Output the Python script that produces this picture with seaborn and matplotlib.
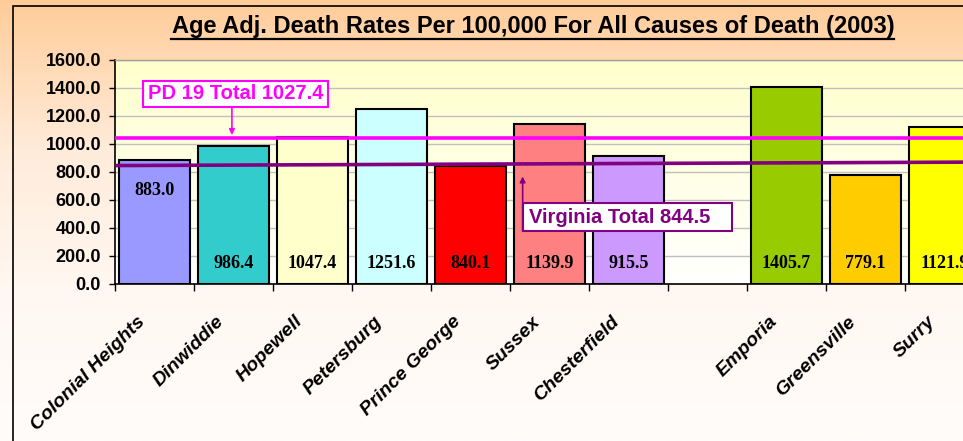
import numpy as np
import pandas as pd
import matplotlib
matplotlib.use("Agg")
import matplotlib.pyplot as plt
import matplotlib.transforms as mtransforms
import seaborn as sns
from matplotlib.colors import LinearSegmentedColormap
from matplotlib.lines import Line2D
from matplotlib.patches import Rectangle

# ---- data ----
order = ["Colonial Heights", "Dinwiddie", "Hopewell", "Petersburg", "Prince George",
         "Sussex", "Chesterfield", " ", "Emporia", "Greensville", "Surry"]
categories = ["Colonial Heights", "Dinwiddie", "Hopewell", "Petersburg", "Prince George",
              "Sussex", "Chesterfield", "Emporia", "Greensville", "Surry"]
values = [883.0, 986.4, 1047.4, 1251.6, 840.1, 1139.9, 915.5, 1405.7, 779.1, 1121.9]
colors = ["#9999FF", "#33CCCC", "#FFFFCC", "#CCFFFF", "#FF0000",
          "#FF8080", "#CC99FF", "#99CC00", "#FFCC00", "#FFFF00"]
label_y = [671, 143, 143, 143, 143, 143, 143, 143, 143, 143]
pd19_label = "PD 19 Total 1027.4"
va_label = "Virginia Total 844.5"
pd19_line = [1045, 1045]
va_line = [846, 871]
title = "Age Adj. Death Rates Per 100,000 For All Causes of Death (2003)"
yticks = [0, 200, 400, 600, 800, 1000, 1200, 1400, 1600]

df = pd.DataFrame({"county": categories, "rate": values})

W, H = 963, 441
fig = plt.figure(figsize=(W / 100, H / 100), dpi=100)

# outer background gradient
bg = fig.add_axes([0, 0, 1, 1], zorder=-10)
cmap_bg = LinearSegmentedColormap.from_list("bg", ["#FFCC99", "#FFEBD9", "#FFF8F2", "#FFFCFA"])
grad = np.linspace(0, 1, 256).reshape(-1, 1)
bg.imshow(grad, aspect="auto", cmap=cmap_bg, extent=[0, 1, 0, 1], origin="upper")
bg.set_axis_off()
bg.add_patch(Rectangle((13 / W, -0.1), 1.2, 1 - 6 / H + 0.1, fill=False,
                       edgecolor="black", linewidth=1.2, transform=bg.transAxes))
bg.set_xlim(0, 1); bg.set_ylim(0, 1)

ax = fig.add_axes([115 / W, (H - 284) / H, 869 / W, 224 / H])
ax.set_facecolor("none")

# plot area gradient
cmap_pa = LinearSegmentedColormap.from_list("pa", ["#FFFFCC", "#FFFFFF"])
ax.imshow(grad, aspect="auto", cmap=cmap_pa, extent=[-0.5, len(order) - 0.5, 0, 1600],
          origin="upper", zorder=0)

for y in yticks[1:]:
    ax.axhline(y, color="#C0C0C0", linewidth=1, zorder=1)

sns.barplot(data=df, x="county", y="rate", hue="county", order=order,
            hue_order=categories, palette=colors, dodge=False, legend=False,
            width=0.9, edgecolor="black", linewidth=1.5, saturation=1, ax=ax, zorder=2)

ax.set_xlim(-0.5, len(order) - 0.5)
ax.set_ylim(0, 1600)
ax.set_xlabel("")
ax.set_ylabel("")

# value labels
for cat, val, ly in zip(categories, values, label_y):
    xi = order.index(cat)
    ax.text(xi, ly, f"{val:.1f}", ha="center", va="center", fontsize=13,
            fontweight="bold", family="Liberation Serif", color="black", zorder=5)

# reference lines
ax.plot([-0.5, len(order) - 0.5], pd19_line, color="#FF00FF", linewidth=2.6, zorder=4)
ax.plot([-0.5, len(order) - 0.5], va_line, color="#800080", linewidth=2.6, zorder=4)

# PD 19 label box + arrow
ax.add_patch(Rectangle((-0.146, 1266), 2.342, 185, facecolor="white",
                       edgecolor="#FF00FF", linewidth=1.5, zorder=6))
ax.text(1.025, 1358, pd19_label, ha="center", va="center", fontsize=14.5,
        fontweight="bold", family="Liberation Sans", color="#FF00FF", zorder=7)
ax.annotate("", xy=(0.98, 1064), xytext=(0.98, 1266),
            arrowprops=dict(arrowstyle="-|>", color="#FF00FF", lw=1.2,
                            mutation_scale=8, shrinkA=0, shrinkB=0), zorder=6)

# Virginia label box + arrow
ax.add_patch(Rectangle((4.66, 377), 2.65, 199, facecolor="white",
                       edgecolor="#800080", linewidth=1.5, zorder=6))
ax.text(4.74, 477, va_label, ha="left", va="center", fontsize=14.5,
        fontweight="bold", family="Liberation Sans", color="#800080", zorder=7)
ax.annotate("", xy=(4.66, 768), xytext=(4.66, 377),
            arrowprops=dict(arrowstyle="-|>", color="#800080", lw=1.2,
                            mutation_scale=8, shrinkA=0, shrinkB=0), zorder=6)

# axes styling
for s in ["top", "right"]:
    ax.spines[s].set_color("#A0A0A0")
    ax.spines[s].set_linewidth(1)
for s in ["left", "bottom"]:
    ax.spines[s].set_color("black")
    ax.spines[s].set_linewidth(1.2)

ax.set_yticks(yticks)
ax.set_yticklabels([f"{v:.1f}" for v in yticks], fontsize=13, fontweight="bold",
                   family="Liberation Sans")
ax.tick_params(axis="y", direction="out", length=4, width=1, pad=6)

# category labels (placed between-tick style, rotated)
ax.set_xticks(range(len(order)))
ax.set_xticklabels([])
ax.tick_params(axis="x", length=0)
ax.set_xticks(np.arange(-0.5, len(order), 1), minor=True)
ax.tick_params(axis="x", which="minor", direction="out", length=5, width=1)
lab_trans = ax.get_xaxis_transform() + mtransforms.ScaledTranslation(
    -12 / 100, -35 / 100, fig.dpi_scale_trans)
for i, name in enumerate(order):
    ax.text(i, 0, name, transform=lab_trans, rotation=45, ha="right", va="center",
            rotation_mode="anchor", fontsize=14, fontweight="bold", style="italic",
            family="Liberation Sans", clip_on=False)

# title with underline
fig.text(533 / W, 1 - 26 / H, title, ha="center", va="center", fontsize=17,
         fontweight="bold", family="Liberation Sans")
fig.add_artist(Line2D([171 / W, 894 / W], [1 - 39 / H, 1 - 39 / H], color="black",
                      linewidth=1.6, transform=fig.transFigure))

fig.savefig("out.png", dpi=100)
